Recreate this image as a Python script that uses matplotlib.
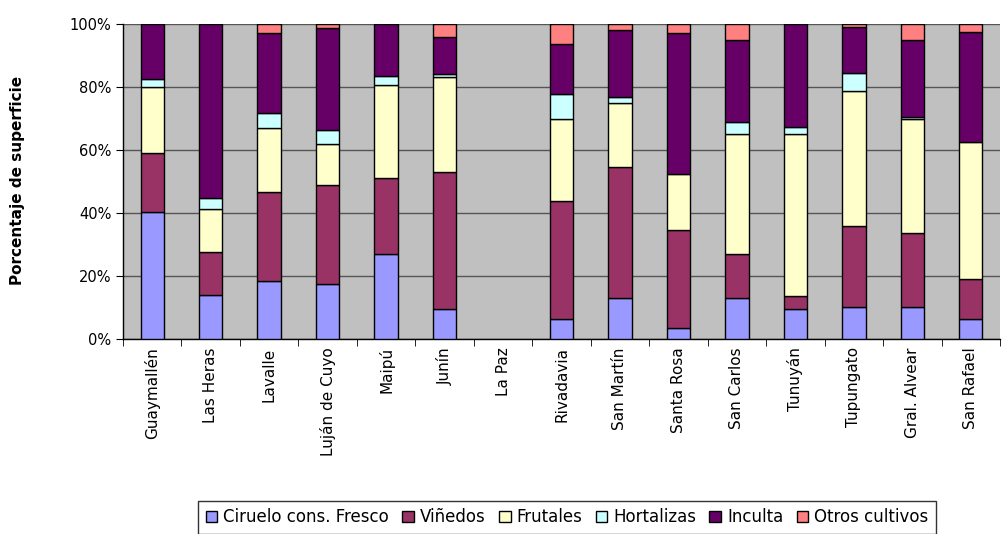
import matplotlib.pyplot as plt
import numpy as np
from matplotlib.ticker import FixedLocator, PercentFormatter

# Departamentos
departamentos = ["Guaymallén", "Las Heras", "Lavalle", "Luján de Cuyo", "Maipú",
                 "Junín", "La Paz", "Rivadavia", "San Martín", "Santa Rosa",
                 "San Carlos", "Tunuyán", "Tupungato", "Gral. Alvear", "San Rafael"]

# Porcentaje de superficie por uso (estimado del grafico)
ciruelo =    [40.2, 14.0, 18.5, 17.5, 27.0,  9.6, 0,  6.2, 13.1,  3.4, 13.1,  9.6, 10.2, 10.2,  6.2]
vinedos =    [18.7, 13.5, 28.1, 31.5, 24.1, 43.5, 0, 37.6, 41.5, 31.1, 14.0,  4.2, 25.8, 23.3, 12.8]
frutales =   [21.2, 13.8, 20.3, 12.8, 29.6, 30.1, 0, 25.9, 20.3, 18.0, 37.9, 51.2, 42.7, 36.3, 43.4]
hortalizas = [ 2.5,  3.4,  4.8,  4.4,  2.9,  1.0, 0,  8.0,  1.8,  0.0,  3.8,  2.3,  5.9,  0.6,  0.0]
inculta =    [17.4, 55.3, 25.3, 32.6, 16.4, 11.8, 0, 15.8, 21.5, 44.5, 26.2, 32.7, 14.3, 24.6, 35.2]
otros =      [ 0.0,  0.0,  3.0,  1.2,  0.0,  4.0, 0,  6.5,  1.8,  3.0,  5.0,  0.0,  1.1,  5.0,  2.4]

series = [
    ("Ciruelo cons. Fresco", ciruelo, "#9999FF"),
    ("Viñedos", vinedos, "#993366"),
    ("Frutales", frutales, "#FFFFCC"),
    ("Hortalizas", hortalizas, "#CCFFFF"),
    ("Inculta", inculta, "#660066"),
    ("Otros cultivos", otros, "#FF8080"),
]

plt.rcParams["font.family"] = ["DejaVu Sans"]

fig = plt.figure(figsize=(10.05, 5.34), dpi=100)
ax = fig.add_axes([123 / 1005, (534 - 339) / 534, 877 / 1005, 315 / 534])
ax.set_facecolor("#C0C0C0")

x = np.arange(len(departamentos))
bottom = np.zeros(len(departamentos))
handles = []
for name, vals, color in series:
    vals = np.array(vals, dtype=float)
    # no edge for empty segments (La Paz etc.)
    lw = np.where(vals > 0, 1.0, 0.0)
    b = ax.bar(x, vals, 0.4, bottom=bottom, color=color, edgecolor="black",
               linewidth=lw, label=name, zorder=3)
    handles.append(b)
    bottom += vals

ax.set_xlim(-0.5, len(departamentos) - 0.5)
ax.set_ylim(0, 100)
ax.set_yticks([0, 20, 40, 60, 80, 100])
ax.yaxis.set_major_formatter(PercentFormatter(decimals=0))
ax.grid(axis="y", color="#555555", linewidth=1, zorder=1)

ax.set_xticks(x)
ax.set_xticklabels(departamentos, rotation=90, fontsize=11)
ax.tick_params(axis="x", which="major", length=0, pad=6)
ax.xaxis.set_minor_locator(FixedLocator(np.arange(-0.5, len(departamentos), 1)))
ax.tick_params(axis="x", which="minor", length=5, direction="out")
ax.tick_params(axis="y", labelsize=10.5, length=5, direction="out")

for s in ["top", "right"]:
    ax.spines[s].set_visible(False)
ax.spines["left"].set_linewidth(1)
ax.spines["bottom"].set_linewidth(1)

fig.text(18 / 1005, 1 - 180 / 534, "Porcentaje de superficie", rotation=90,
         ha="center", va="center", fontsize=11, fontweight="bold")

leg = fig.legend(handles=[h.patches[0] for h in handles],
                 labels=[s[0] for s in series], loc="lower center", ncol=6,
                 bbox_to_anchor=(567 / 1005, -0.015), fontsize=12,
                 frameon=True, fancybox=False, edgecolor="black",
                 handlelength=0.7, handleheight=0.7, handletextpad=0.35,
                 columnspacing=0.8, borderpad=0.45)
leg.get_frame().set_linewidth(1)
for p in leg.get_patches():
    p.set_linewidth(1)

fig.savefig("out.png", dpi=100, facecolor="white")
